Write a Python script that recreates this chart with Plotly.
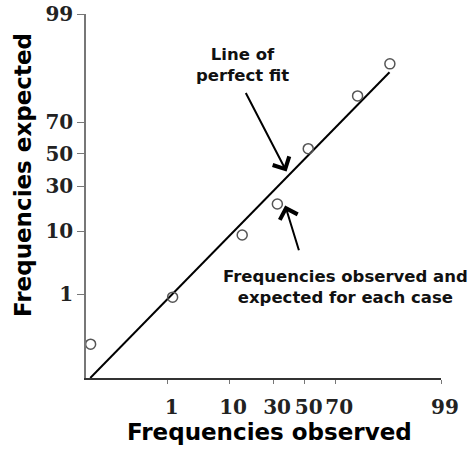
import plotly.graph_objects as go

# Tick labels of the probability-type scales and their positions on the axis (scale units 0-100)
tick_labels = ["1", "10", "30", "50", "70", "99"]
tick_positions = [23.0, 40.3, 52.7, 61.6, 70.2, 100.0]

# Observed vs expected frequencies for each case (scale units)
observed = [1.3, 24.4, 44.0, 53.9, 62.6, 76.5, 85.6]
expected = [9.3, 22.2, 39.3, 47.8, 63.0, 77.5, 86.3]

# Line of perfect fit (end points, scale units)
fit_x = [1.2, 85.5]
fit_y = [0.0, 84.0]

title_font = dict(family="DejaVu Sans", size=23, color="black", weight="bold")
tick_font = dict(family="DejaVu Serif", size=20, color="#222222", weight="bold")
note_font = dict(family="DejaVu Sans", size=16.5, color="#111111", weight="bold")

W, H, L, R, T, B = 472, 451, 86, 31, 14, 73
pw, ph = W - L - R, H - T - B

fig = go.Figure()
fig.add_trace(go.Scatter(x=fit_x, y=fit_y, mode="lines",
                         line=dict(color="black", width=2), hoverinfo="skip"))
fig.add_trace(go.Scatter(x=observed, y=expected, mode="markers",
                         marker=dict(symbol="circle-open", size=10, color="#555555",
                                     line=dict(color="#555555", width=1.5))))

fig.add_annotation(x=56.5, y=56.7, ax=44.8, ay=78.7, xref="x", yref="y",
                   axref="x", ayref="y", text="", showarrow=True,
                   arrowhead=4, arrowsize=1.8, arrowwidth=2, arrowcolor="black")
fig.add_annotation(x=56.1, y=47.4, ax=60.1, ay=34.7, xref="x", yref="y",
                   axref="x", ayref="y", text="", showarrow=True,
                   arrowhead=4, arrowsize=1.8, arrowwidth=2, arrowcolor="black")
fig.add_annotation(x=44.2, y=86.0, xref="x", yref="y", showarrow=False,
                   text="Line of<br>perfect fit", font=note_font, align="center")
fig.add_annotation(x=73.0, y=25.0, xref="x", yref="y", showarrow=False,
                   text="Frequencies observed and<br>expected for each case",
                   font=note_font, align="center")

# Axis titles (placed in paper coordinates)
fig.add_annotation(x=(269 - L) / pw, y=(H - B - 432) / ph, xref="paper", yref="paper",
                   xanchor="center", yanchor="middle", showarrow=False,
                   text="Frequencies observed", font=title_font)
fig.add_annotation(x=(23 - L) / pw, y=(H - B - 175) / ph, xref="paper", yref="paper",
                   xanchor="center", yanchor="middle", showarrow=False,
                   text="Frequencies expected", font=title_font, textangle=-90)

fig.update_layout(
    width=W, height=H,
    margin=dict(l=L, r=R, t=T, b=B, autoexpand=False),
    paper_bgcolor="white", plot_bgcolor="white",
    showlegend=False,
    xaxis=dict(range=[0, 100], tickvals=tick_positions, ticktext=tick_labels,
               showgrid=False, zeroline=False, showline=True, automargin=False,
               linecolor="#333333", linewidth=2,
               ticks="outside", ticklen=4, tickcolor="#777777", tickwidth=1,
               tickfont=tick_font, ticklabelstandoff=6, ticklabelshift=4),
    yaxis=dict(range=[0, 100], tickvals=tick_positions, ticktext=tick_labels,
               showgrid=False, zeroline=False, showline=True, automargin=False,
               linecolor="#777777", linewidth=1.5,
               ticks="outside", ticklen=7, tickcolor="#777777", tickwidth=1,
               tickfont=tick_font),
)

fig.write_html("out.html")
